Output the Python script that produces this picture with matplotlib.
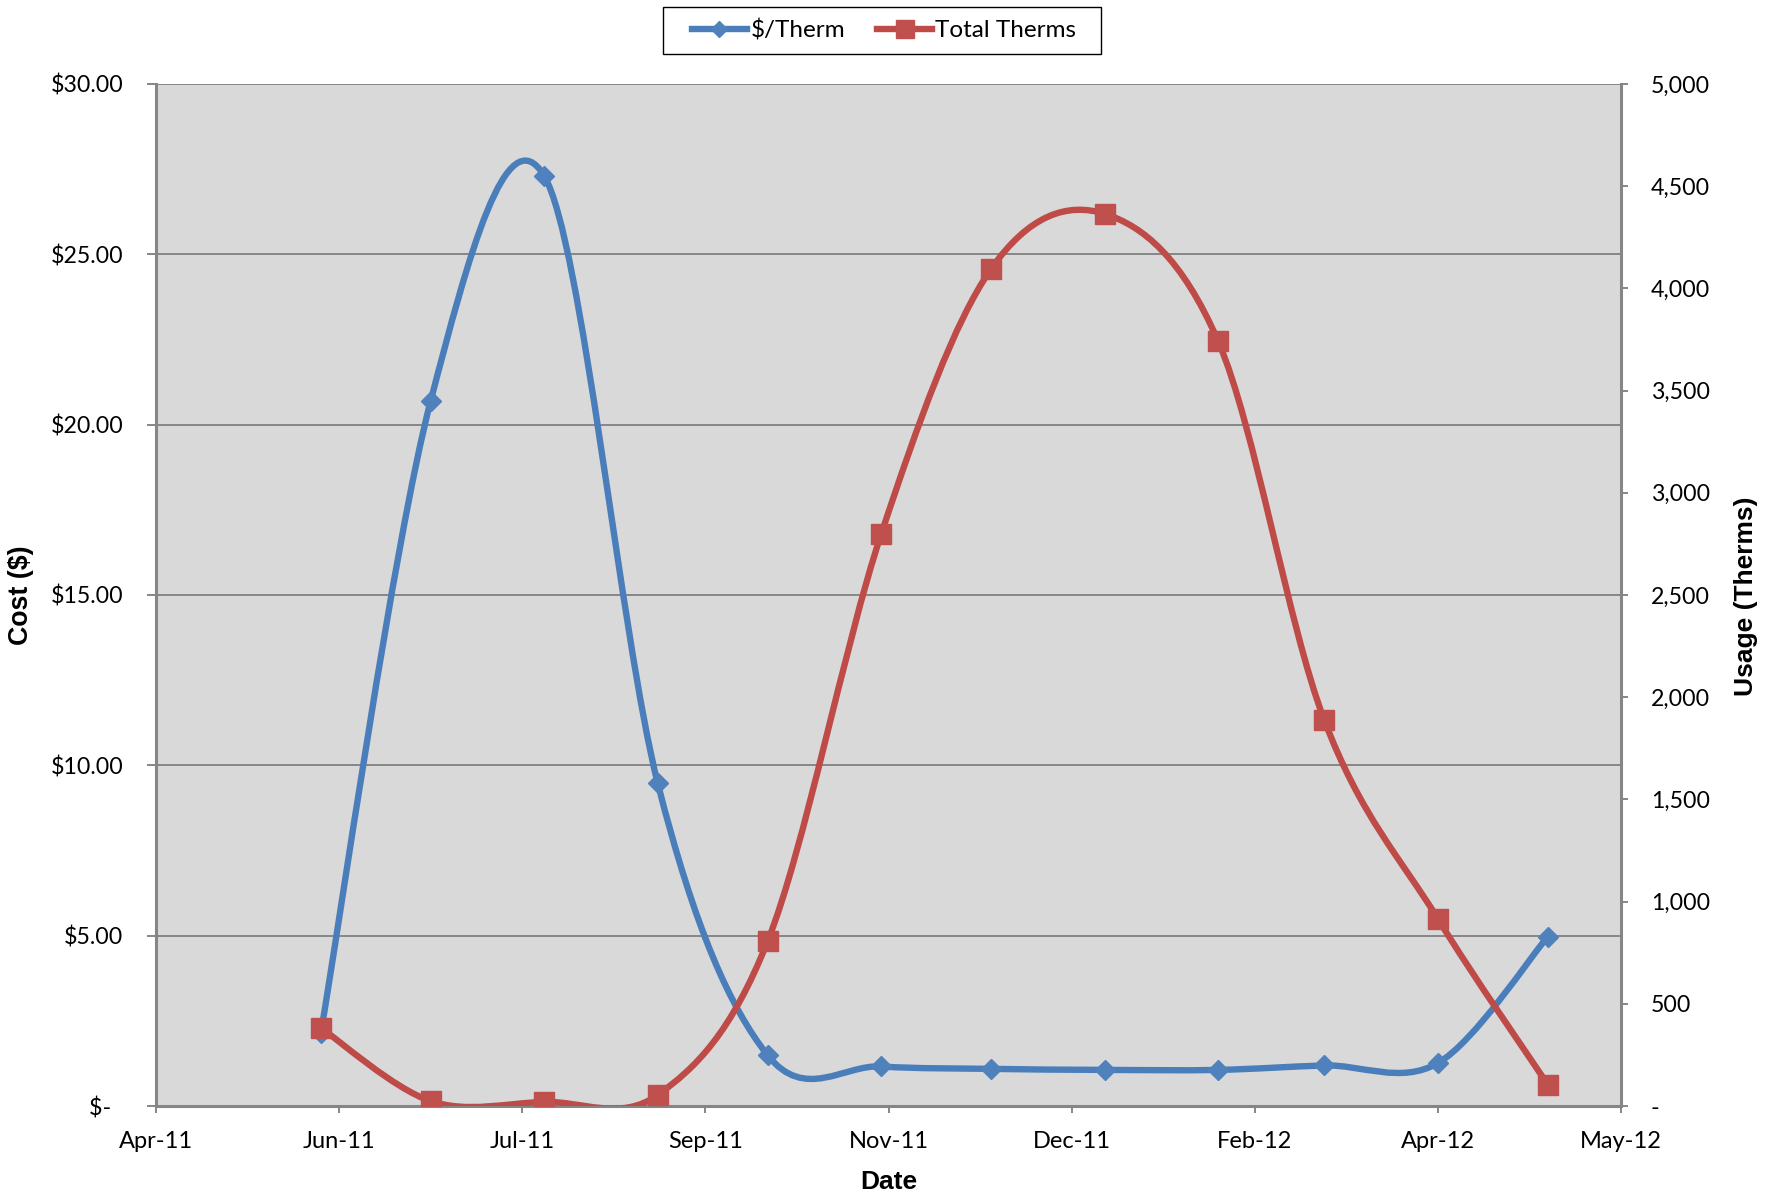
import matplotlib
matplotlib.use('Agg')
import matplotlib.pyplot as plt
import matplotlib.dates as mdates
from matplotlib.path import Path
from matplotlib.patches import PathPatch, Rectangle
from matplotlib.lines import Line2D
from matplotlib.ticker import FuncFormatter, FixedLocator
import numpy as np
import datetime as dt

# ---------------- data ----------------
months = ['2011-06-01', '2011-07-01', '2011-08-01', '2011-09-01', '2011-10-01',
          '2011-11-01', '2011-12-01', '2012-01-01', '2012-02-01', '2012-03-01',
          '2012-04-01', '2012-05-01']
cost_per_therm = [2.15, 20.7, 27.3, 9.47, 1.49, 1.16, 1.09, 1.06, 1.06, 1.19, 1.26, 4.97]
total_therms = [382, 24, 20, 54, 806, 2798, 4095, 4365, 3742, 1887, 916, 105]
series_names = ['$/Therm', 'Total Therms']
axis_start = '2011-04-17'
tick_step_days = 50
n_ticks = 9

BLUE_LINE, BLUE_MK = '#4A7EBB', '#4F81BD'
RED_LINE, RED_MK = '#BE4B48', '#C0504D'
GRAY = '#868686'
TICK_FONT = ['Lato', 'Open Sans', 'DejaVu Sans']
LABEL_FONT = ['Liberation Sans Narrow', 'Liberation Sans', 'DejaVu Sans']


def smooth_path(x, y):
    """Excel-like smoothed line (Catmull-Rom cubic Bezier, tension 1/6)."""
    n = len(x)
    verts = [(x[0], y[0])]
    codes = [Path.MOVETO]
    for i in range(n - 1):
        xp, yp = (x[i - 1], y[i - 1]) if i > 0 else (x[i], y[i])
        xn, yn = (x[i + 2], y[i + 2]) if i + 2 < n else (x[i + 1], y[i + 1])
        c1 = (x[i] + (x[i + 1] - xp) / 6.0, y[i] + (y[i + 1] - yp) / 6.0)
        c2 = (x[i + 1] - (xn - x[i]) / 6.0, y[i + 1] - (yn - y[i]) / 6.0)
        verts += [c1, c2, (x[i + 1], y[i + 1])]
        codes += [Path.CURVE4] * 3
    return Path(verts, codes)


xdates = [dt.datetime.strptime(m, '%Y-%m-%d') for m in months]
xnum = mdates.date2num(xdates)
start = mdates.date2num(dt.datetime.strptime(axis_start, '%Y-%m-%d'))
ticks = start + np.arange(n_ticks) * tick_step_days

fig = plt.figure(figsize=(17.69, 11.96), dpi=100)
ax = fig.add_axes([0.08819, 0.07525, 0.82815, 0.85452])
ax2 = ax.twinx()

ax.set_facecolor('#D9D9D9')
ax.set_xlim(ticks[0], ticks[-1])
ax.set_ylim(0, 30)
ax2.set_ylim(0, 5000)

# lines
ax.add_patch(PathPatch(smooth_path(xnum, cost_per_therm), facecolor='none',
                       edgecolor=BLUE_LINE, lw=4.6, capstyle='round', joinstyle='round', zorder=3))
ax.plot(xnum, cost_per_therm, linestyle='none', marker='D', markersize=9.8,
        color=BLUE_MK, markeredgecolor=BLUE_MK, zorder=4)
ax2.add_patch(PathPatch(smooth_path(xnum, total_therms), facecolor='none',
                        edgecolor=RED_LINE, lw=4.6, capstyle='round', joinstyle='round', zorder=3))
ax2.plot(xnum, total_therms, linestyle='none', marker='s', markersize=14,
         color=RED_MK, markeredgecolor=RED_MK, zorder=4)

# grid
ax.set_axisbelow(True)
ax.yaxis.grid(True, color=GRAY, lw=1.4)
ax.xaxis.grid(False)

# spines
for s in ['top', 'right']:
    ax.spines[s].set_visible(False)
for s in ['top', 'left', 'bottom']:
    ax2.spines[s].set_visible(False)
for sp in [ax.spines['left'], ax.spines['bottom'], ax2.spines['right']]:
    sp.set_color(GRAY)
    sp.set_linewidth(2.2)

# ticks
ax.xaxis.set_major_locator(FixedLocator(ticks))
ax.xaxis.set_major_formatter(mdates.DateFormatter('%b-%y'))
ax.set_yticks(np.arange(0, 30.1, 5))
ax.yaxis.set_major_formatter(FuncFormatter(lambda v, p: '$-  ' if v == 0 else f'${v:,.2f}'))
ax2.set_yticks(np.arange(0, 5001, 500))
ax2.yaxis.set_major_formatter(FuncFormatter(lambda v, p: '-' if v == 0 else f'{v:,.0f}'))

ax.tick_params(axis='y', direction='out', length=6.5, width=1.4, color=GRAY, pad=17, labelsize=16.7)
ax.tick_params(axis='x', direction='out', length=5, width=1.4, color=GRAY, pad=13, labelsize=17)
ax2.tick_params(axis='y', direction='out', length=5, width=1.4, color=GRAY, pad=16.5, labelsize=16.7)
for lab in ax.get_xticklabels() + ax.get_yticklabels() + ax2.get_yticklabels():
    lab.set_fontfamily(TICK_FONT)

# axis titles
fig.text(21 / 1769, 1 - 595 / 1196, 'Cost ($)', rotation=90, ha='center', va='center',
         fontsize=19.3, fontweight='bold', family=LABEL_FONT)
fig.text(1746 / 1769, 1 - 596 / 1196, 'Usage (Therms)', rotation=90, ha='center', va='center',
         fontsize=19, fontweight='bold', family=LABEL_FONT)
fig.text(889 / 1769, 1 - 1182 / 1196, 'Date', ha='center', va='center',
         fontsize=19, fontweight='bold', family=LABEL_FONT)

# legend
handles = [Line2D([], [], color=BLUE_LINE, lw=4.6, marker='D', markersize=8.5,
                  markerfacecolor=BLUE_MK, markeredgecolor=BLUE_MK),
           Line2D([], [], color=RED_LINE, lw=4.6, marker='s', markersize=13,
                  markerfacecolor=RED_MK, markeredgecolor=RED_MK)]
leg = fig.legend(handles, series_names, loc='center', bbox_to_anchor=(0.4997, 0.9745),
                 ncol=2, frameon=False, handlelength=2.3, handletextpad=0.12,
                 columnspacing=1.3, borderpad=0, borderaxespad=0,
                 prop={'family': TICK_FONT, 'size': 17.5})
fig.patches.append(Rectangle((663 / 1769, 1 - 54 / 1196), 438 / 1769, 47 / 1196,
                             transform=fig.transFigure, facecolor='none',
                             edgecolor='black', lw=1.0))

fig.savefig('out.png', dpi=100)
